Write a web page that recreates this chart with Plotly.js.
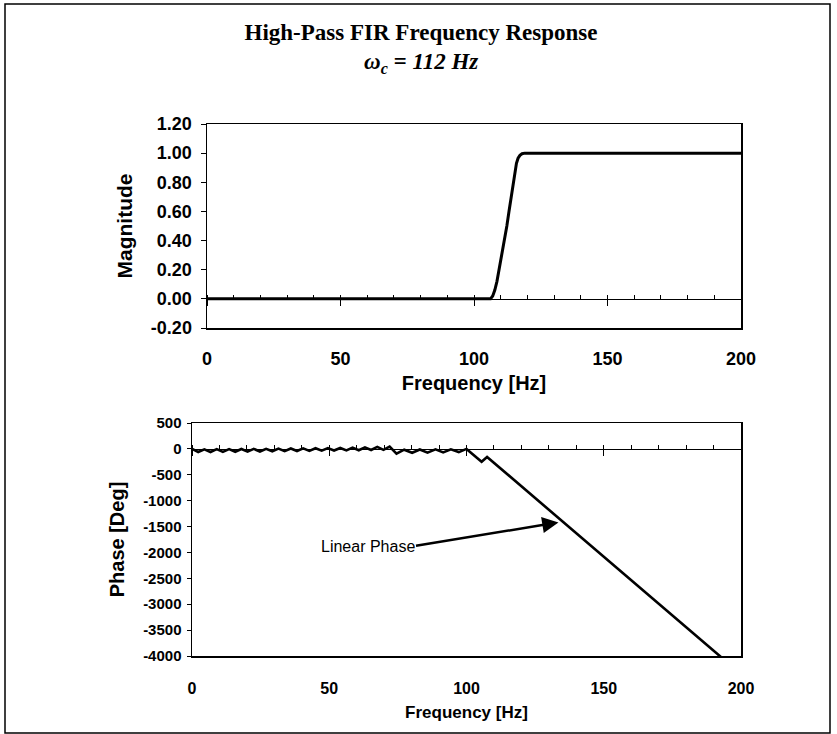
<!DOCTYPE html>
<html>
<head>
<meta charset="utf-8">
<script src="https://cdn.plot.ly/plotly-3.0.1.min.js"></script>
<style>html,body{margin:0;padding:0;background:#fff;}#chart{width:837px;height:734px;}</style>
</head>
<body>
<div id="chart"></div>
<script>
// Magnitude response
var magFreq = [0, 50, 100, 106.2, 107.0, 107.8, 108.6, 109.4, 110.5, 111.5, 112.3, 113.1, 113.9, 114.7, 115.3, 115.9, 116.5, 117.2, 118.0, 119.0, 150, 200];
var magValue = [0, 0, 0, 0, 0.02, 0.06, 0.12, 0.2, 0.3, 0.4, 0.5, 0.6, 0.7, 0.8, 0.87, 0.93, 0.965, 0.985, 0.996, 1.0, 1.0, 1.0];

// Phase response
var phaseFreq = [0, 2.25, 4.5, 6.75, 9, 11.25, 13.5, 15.75, 18, 20.25, 22.5, 24.75, 27, 29.25, 31.5, 33.75,
  36, 38.25, 40.5, 42.75, 45, 47.25, 49.5, 51.75, 54, 56.25, 58.5, 60.75, 63, 65.25, 67.5, 69.75, 72,
  74.5, 77.3, 80.2, 83.0, 85.8, 88.7, 91.5, 94.3, 97.2, 100, 105.5, 107.5, 192.3, 200];
var phaseValue = [0, -60, -8, -60, -5, -58, -5, -55, -2, -52, 0, -50, 2, -46, 5, -44,
  8, -42, 10, -38, 12, -35, 15, -32, 18, -30, 24, -26, 30, -22, 38, -18, 45,
  -90, -15, -75, -12, -72, -10, -68, -8, -62, 0, -250, -155, -4000, -4350];

// Tick labels
var freqTicks = [0, 50, 100, 150, 200];
var freqTickText = ['0', '50', '100', '150', '200'];
var magTicks = [-0.2, 0, 0.2, 0.4, 0.6, 0.8, 1.0, 1.2];
var magTickText = ['-0.20', '0.00', '0.20', '0.40', '0.60', '0.80', '1.00', '1.20'];
var phaseTicks = [-4000, -3500, -3000, -2500, -2000, -1500, -1000, -500, 0, 500];
var phaseTickText = ['-4000', '-3500', '-3000', '-2500', '-2000', '-1500', '-1000', '-500', '0', '500'];

// Annotation
var noteText = 'Linear Phase';
var noteTextPos = [82.0, -1880];
var noteTail = [80.5, -1880];
var noteHead = [133.5, -1420];

var W = 837, H = 734;
function px(x) { return x / W; }
function py(y) { return 1 - y / H; }

var topX = [px(207), px(741)];
var topY = [py(328), py(124)];
var botX = [px(192), px(741)];
var botY = [py(656), py(423)];
var topZero = topY[0] + (0 - (-0.2)) / 1.4 * (topY[1] - topY[0]);
var botZero = botY[0] + (0 - (-4000)) / 4500 * (botY[1] - botY[0]);

var sans = 'Liberation Sans, Arial, sans-serif';
var serif = 'Liberation Serif, Times New Roman, serif';

var traces = [
  {x: magFreq, y: magValue, xaxis: 'x', yaxis: 'y', mode: 'lines',
   line: {color: '#000', width: 3}, showlegend: false, hoverinfo: 'skip'},
  {x: phaseFreq, y: phaseValue, xaxis: 'x2', yaxis: 'y2', mode: 'lines',
   line: {color: '#000', width: 2.6}, showlegend: false, hoverinfo: 'skip'},
  {x: [], y: [], xaxis: 'x3', yaxis: 'y', mode: 'lines', showlegend: false, hoverinfo: 'skip'},
  {x: [], y: [], xaxis: 'x4', yaxis: 'y2', mode: 'lines', showlegend: false, hoverinfo: 'skip'}
];

var lineAx = {showline: true, linecolor: '#000', linewidth: 1.5, mirror: true, showgrid: false, zeroline: false};

var layout = {
  width: W, height: H,
  margin: {l: 0, r: 0, t: 0, b: 0},
  paper_bgcolor: '#fff', plot_bgcolor: '#fff',
  showlegend: false,
  title: {text: '<b>High-Pass FIR Frequency Response</b>', x: px(421), xanchor: 'center', y: py(32), yanchor: 'middle',
          font: {family: serif, size: 23, color: '#000'}},
  xaxis: Object.assign({}, lineAx, {domain: topX, anchor: 'y', range: [0, 200], tickmode: 'array', tickvals: freqTicks, ticktext: freqTickText,
    ticks: '', ticklabelstandoff: 14, tickfont: {family: sans, size: 18, color: '#000', weight: 'bold'},
    title: {text: '<b>Frequency [Hz]</b>', standoff: 8, font: {family: sans, size: 20, color: '#000'}}}),
  yaxis: Object.assign({}, lineAx, {domain: topY, anchor: 'x', range: [-0.2, 1.2], tickmode: 'array', tickvals: magTicks, ticktext: magTickText,
    ticks: 'outside', ticklen: 5, tickcolor: '#000', ticklabelstandoff: 5, tickfont: {family: sans, size: 18, color: '#000', weight: 'bold'},
    title: {text: '<b>Magnitude</b>', standoff: 12, font: {family: sans, size: 21, color: '#000'}}}),
  xaxis3: {overlaying: 'x', domain: topX, anchor: 'free', position: topZero, range: [0, 200], showline: true, linecolor: '#000', linewidth: 1.5,
    showgrid: false, zeroline: false, showticklabels: false, tickmode: 'linear', tick0: 0, dtick: 50, ticks: 'outside', ticklen: 6, tickcolor: '#000',
    minor: {tickmode: 'linear', tick0: 0, dtick: 10, ticks: 'inside', ticklen: 4, tickcolor: '#000'}},
  xaxis2: Object.assign({}, lineAx, {domain: botX, anchor: 'y2', range: [0, 200], tickmode: 'array', tickvals: freqTicks, ticktext: freqTickText,
    ticks: '', ticklabelstandoff: 17, tickfont: {family: sans, size: 16, color: '#000', weight: 'bold'},
    title: {text: '<b>Frequency [Hz]</b>', standoff: 10, font: {family: sans, size: 17, color: '#000'}}}),
  yaxis2: Object.assign({}, lineAx, {domain: botY, anchor: 'x2', range: [-4000, 500], tickmode: 'array', tickvals: phaseTicks, ticktext: phaseTickText,
    ticks: 'outside', ticklen: 4, tickcolor: '#000', ticklabelstandoff: 2, tickfont: {family: sans, size: 15, color: '#000', weight: 'bold'},
    title: {text: '<b>Phase [Deg]</b>', standoff: 13, font: {family: sans, size: 20, color: '#000'}}}),
  xaxis4: {overlaying: 'x2', domain: botX, anchor: 'free', position: botZero, range: [0, 200], showline: true, linecolor: '#000', linewidth: 1.5,
    showgrid: false, zeroline: false, showticklabels: false, tickmode: 'linear', tick0: 0, dtick: 50, ticks: 'outside', ticklen: 6, tickcolor: '#000',
    minor: {tickmode: 'linear', tick0: 0, dtick: 10, ticks: 'inside', ticklen: 4, tickcolor: '#000'}},
  annotations: [
    {xref: 'paper', yref: 'paper', x: px(421), y: py(63), xanchor: 'center', yanchor: 'middle', showarrow: false,
     text: '<b><i>ω<sub>c</sub> = 112 Hz</i></b>', font: {family: serif, size: 23, color: '#000'}},
    {xref: 'x2', yref: 'y2', x: noteTextPos[0], y: noteTextPos[1], xanchor: 'right', yanchor: 'middle', showarrow: false,
     text: noteText, font: {family: sans, size: 16, color: '#000'}},
    {xref: 'x2', yref: 'y2', x: noteHead[0], y: noteHead[1], axref: 'x2', ayref: 'y2', ax: noteTail[0], ay: noteTail[1],
     text: ' ', showarrow: true, arrowhead: 2, arrowsize: 1.3, arrowwidth: 2.5, arrowcolor: '#000', standoff: 0, startstandoff: 0}
  ],
  shapes: [
    {type: 'rect', xref: 'paper', yref: 'paper', x0: px(5), x1: px(830), y0: py(733), y1: py(4), line: {color: '#000', width: 1.5}, fillcolor: 'rgba(0,0,0,0)'}
  ]
};

Plotly.newPlot('chart', traces, layout, {staticPlot: true, displayModeBar: false});
</script>
</body>
</html>
